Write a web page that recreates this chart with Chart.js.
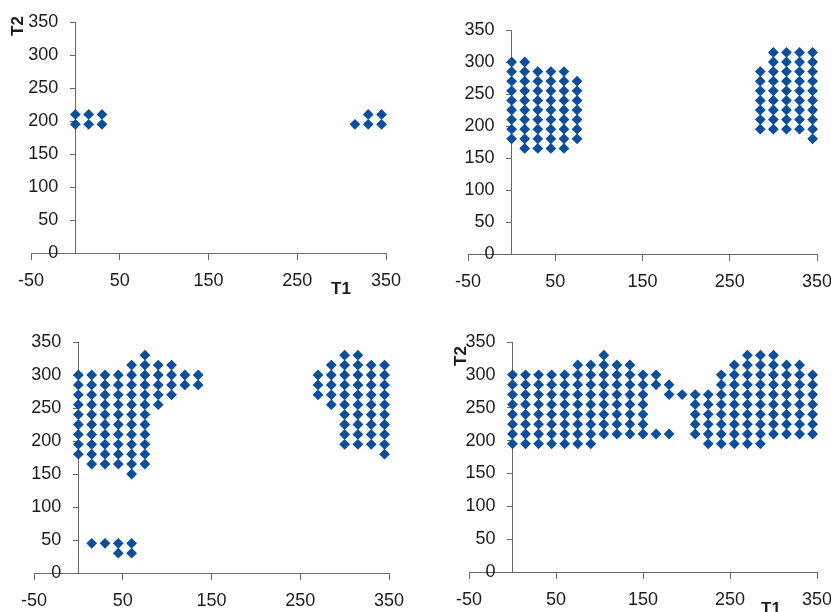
<!DOCTYPE html>
<html>
<head>
<meta charset="utf-8">
<title>T1 / T2 scatter</title>
<script src="https://cdn.jsdelivr.net/npm/chart.js@4/dist/chart.umd.min.js"></script>
<style>
  html, body { margin: 0; padding: 0; background: #ffffff; }
  #wrap { position: relative; width: 831px; height: 612px; overflow: hidden; background: #ffffff; }
  #wrap canvas { position: absolute; }
</style>
</head>
<body>
<div id="wrap">
  <canvas id="panelA" width="415" height="300" style="left:0;top:0"></canvas>
  <canvas id="panelB" width="416" height="300" style="left:415px;top:0"></canvas>
  <canvas id="panelC" width="415" height="312" style="left:0;top:300px"></canvas>
  <canvas id="panelD" width="416" height="312" style="left:415px;top:300px"></canvas>
</div>
<script>
// Tick values for both axes
const t1Ticks = [-50, 50, 150, 250, 350];
const t2Ticks = [0, 50, 100, 150, 200, 250, 300, 350];

// Each entry: [T1, [T2 values at that T1]]
const panelAColumns = [
  [0,   [195, 210]],
  [15,  [195, 210]],
  [30,  [195, 210]],
  [315, [195]],
  [330, [195, 210]],
  [345, [195, 210]]
];

const panelBColumns = [
  [0,   [180, 195, 210, 225, 240, 255, 270, 285, 300]],
  [15,  [165, 180, 195, 210, 225, 240, 255, 270, 285, 300]],
  [30,  [165, 180, 195, 210, 225, 240, 255, 270, 285]],
  [45,  [165, 180, 195, 210, 225, 240, 255, 270, 285]],
  [60,  [165, 180, 195, 210, 225, 240, 255, 270, 285]],
  [75,  [180, 195, 210, 225, 240, 255, 270]],
  [285, [195, 210, 225, 240, 255, 270, 285]],
  [300, [195, 210, 225, 240, 255, 270, 285, 300, 315]],
  [315, [195, 210, 225, 240, 255, 270, 285, 300, 315]],
  [330, [195, 210, 225, 240, 255, 270, 285, 300, 315]],
  [345, [180, 195, 210, 225, 240, 255, 270, 285, 300, 315]]
];

const panelCColumns = [
  [0,   [180, 195, 210, 225, 240, 255, 270, 285, 300]],
  [15,  [45, 165, 180, 195, 210, 225, 240, 255, 270, 285, 300]],
  [30,  [45, 165, 180, 195, 210, 225, 240, 255, 270, 285, 300]],
  [45,  [30, 45, 165, 180, 195, 210, 225, 240, 255, 270, 285, 300]],
  [60,  [30, 45, 150, 165, 180, 195, 210, 225, 240, 255, 270, 285, 300, 315]],
  [75,  [165, 180, 195, 210, 225, 240, 255, 270, 285, 300, 315, 330]],
  [90,  [255, 270, 285, 300, 315]],
  [105, [270, 285, 300, 315]],
  [120, [285, 300]],
  [135, [285, 300]],
  [270, [270, 285, 300]],
  [285, [255, 270, 285, 300, 315]],
  [300, [195, 210, 225, 240, 255, 270, 285, 300, 315, 330]],
  [315, [195, 210, 225, 240, 255, 270, 285, 300, 315, 330]],
  [330, [195, 210, 225, 240, 255, 270, 285, 300, 315]],
  [345, [180, 195, 210, 225, 240, 255, 270, 285, 300, 315]]
];

const panelDColumns = [
  [0,   [195, 210, 225, 240, 255, 270, 285, 300]],
  [15,  [195, 210, 225, 240, 255, 270, 285, 300]],
  [30,  [195, 210, 225, 240, 255, 270, 285, 300]],
  [45,  [195, 210, 225, 240, 255, 270, 285, 300]],
  [60,  [195, 210, 225, 240, 255, 270, 285, 300]],
  [75,  [195, 210, 225, 240, 255, 270, 285, 300, 315]],
  [90,  [195, 210, 225, 240, 255, 270, 285, 300, 315]],
  [105, [210, 225, 240, 255, 270, 285, 300, 315, 330]],
  [120, [210, 225, 240, 255, 270, 285, 300, 315]],
  [135, [210, 225, 240, 255, 270, 285, 300, 315]],
  [150, [210, 225, 240, 255, 270, 285, 300]],
  [165, [210, 285, 300]],
  [180, [210, 270, 285]],
  [195, [270]],
  [210, [210, 225, 240, 255, 270]],
  [225, [195, 210, 225, 240, 255, 270]],
  [240, [195, 210, 225, 240, 255, 270, 285, 300]],
  [255, [195, 210, 225, 240, 255, 270, 285, 300, 315]],
  [270, [195, 210, 225, 240, 255, 270, 285, 300, 315, 330]],
  [285, [195, 210, 225, 240, 255, 270, 285, 300, 315, 330]],
  [300, [210, 225, 240, 255, 270, 285, 300, 315, 330]],
  [315, [210, 225, 240, 255, 270, 285, 300, 315]],
  [330, [210, 225, 240, 255, 270, 285, 300, 315]],
  [345, [210, 225, 240, 255, 270, 285, 300]]
];

const MARKER_COLOR = '#0b4f9c';
const AXIS_COLOR = '#6a6a6a';
const TEXT_COLOR = '#1c1c1c';
const FONT_FAMILY = '"Liberation Sans", Arial, sans-serif';
const Y_TICK_LEN = 5;
const Y_TICK_PAD = 12;

function toPoints(columns) {
  const pts = [];
  columns.forEach(([t1, t2List]) => t2List.forEach(t2 => pts.push({ x: t1, y: t2 })));
  return pts;
}

// The T2 axis crosses at T1 = 0; move its labels left of the tick marks
const crossingAxisLabels = {
  id: 'crossingAxisLabels',
  beforeDraw(chart) {
    const scale = chart.scales.y;
    const items = scale.getLabelItems(chart.chartArea);
    items.forEach(item => {
      if (!item._shifted) {
        item.options.translation[0] -= (Y_TICK_LEN + Y_TICK_PAD);
        item._shifted = true;
      }
    });
  }
};

// Draws the bold "T1"/"T2" axis captions at the given canvas positions
const axisCaptions = {
  id: 'axisCaptions',
  afterDraw(chart, args, opts) {
    const ctx = chart.ctx;
    ctx.save();
    ctx.fillStyle = TEXT_COLOR;
    ctx.font = 'bold 17px ' + FONT_FAMILY;
    ctx.textAlign = 'center';
    ctx.textBaseline = 'middle';
    (opts.items || []).forEach(item => {
      ctx.save();
      ctx.translate(item.x, item.y);
      if (item.rotate) ctx.rotate(-Math.PI / 2);
      ctx.fillText(item.text, 0, 0);
      ctx.restore();
    });
    ctx.restore();
  }
};

function buildChart(canvasId, columns, padding, captions) {
  const tickFont = { family: FONT_FAMILY, size: 18 };
  return new Chart(document.getElementById(canvasId), {
    type: 'scatter',
    data: {
      datasets: [{
        data: toPoints(columns),
        pointStyle: 'rectRot',
        pointRadius: 5.4,
        pointHoverRadius: 5.4,
        backgroundColor: MARKER_COLOR,
        borderColor: MARKER_COLOR,
        borderWidth: 0,
        clip: false
      }]
    },
    options: {
      responsive: false,
      animation: false,
      events: [],
      layout: { padding },
      plugins: {
        legend: { display: false },
        tooltip: { enabled: false },
        axisCaptions: { items: captions }
      },
      scales: {
        x: {
          type: 'linear',
          min: t1Ticks[0],
          max: t1Ticks[t1Ticks.length - 1],
          position: { y: 0 },
          afterFit(s) { s.paddingLeft = 0; s.paddingRight = 0; },
          afterBuildTicks(s) { s.ticks = t1Ticks.map(v => ({ value: v })); },
          ticks: { padding: 11, color: TEXT_COLOR, font: tickFont },
          grid: { drawOnChartArea: false, drawTicks: true, tickLength: 6, color: AXIS_COLOR, lineWidth: 1 },
          border: { display: true, color: AXIS_COLOR, width: 1 }
        },
        y: {
          type: 'linear',
          min: t2Ticks[0],
          max: t2Ticks[t2Ticks.length - 1],
          position: { x: 0 },
          afterFit(s) { s.paddingTop = 0; s.paddingBottom = 0; },
          afterBuildTicks(s) { s.ticks = t2Ticks.map(v => ({ value: v })); },
          ticks: { padding: Y_TICK_PAD, color: TEXT_COLOR, font: tickFont },
          grid: { drawOnChartArea: false, drawTicks: true, tickLength: Y_TICK_LEN, color: AXIS_COLOR, lineWidth: 1 },
          border: { display: true, color: AXIS_COLOR, width: 1 }
        }
      }
    },
    plugins: [crossingAxisLabels, axisCaptions]
  });
}

buildChart('panelA', panelAColumns,
  { left: 31, top: 22, right: 29, bottom: 47 },
  [{ text: 'T2', x: 18, y: 26, rotate: true }, { text: 'T1', x: 341, y: 289 }]);
buildChart('panelB', panelBColumns,
  { left: 53, top: 30, right: 14, bottom: 46 },
  []);
buildChart('panelC', panelCColumns,
  { left: 34, top: 42, right: 26, bottom: 39 },
  []);
buildChart('panelD', panelDColumns,
  { left: 54, top: 42, right: 14, bottom: 40 },
  [{ text: 'T2', x: 46, y: 56, rotate: true }, { text: 'T1', x: 356, y: 309 }]);
</script>
</body>
</html>
